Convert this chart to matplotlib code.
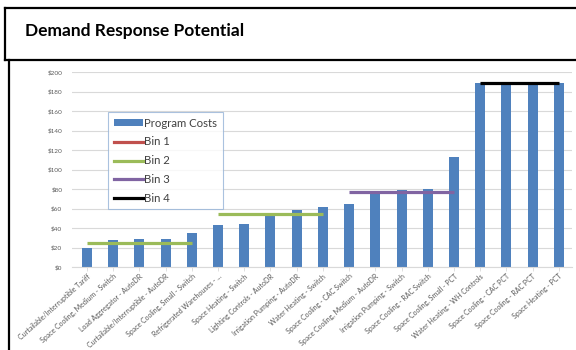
import matplotlib
matplotlib.use("Agg")
import matplotlib.pyplot as plt
from matplotlib.lines import Line2D
from matplotlib.patches import Patch
import numpy as np

plt.rcParams['font.family'] = ['Lato', 'DejaVu Sans']

programs = [
    "Curtailable/Interruptible Tariff",
    "Space Cooling, Medium - Switch",
    "Load Aggregator - AutoDR",
    "Curtailable/Interruptible - AutoDR",
    "Space Cooling, Small - Switch",
    "Refrigerated Warehouses - ...",
    "Space Heating - Switch",
    "Lighting Controls - AutoDR",
    "Irrigation Pumping - AutoDR",
    "Water Heating - Switch",
    "Space Cooling - CAC Switch",
    "Space Cooling, Medium - AutoDR",
    "Irrigation Pumping - Switch",
    "Space Cooling - RAC Switch",
    "Space Cooling, Small - PCT",
    "Water Heating - WH Controls",
    "Space Cooling - CAC PCT",
    "Space Cooling - RAC PCT",
    "Space Heating - PCT",
]
costs = [19, 27.5, 28.5, 29, 34.5, 43, 44.5, 53, 58.5, 61.5,
         65, 78, 79, 79.5, 112.5, 188.5, 188.5, 188.5, 188.5]

# bin averages: (first program, last program, level)
bin2_segments = [(0, 4, 25), (5, 9, 54)]
bin3_segments = [(10, 14, 77)]
bin4_segments = [(15, 18, 189)]

bar_color = '#4F81BD'
bin_colors = {'Bin 1': '#C0504D', 'Bin 2': '#9BBB59',
              'Bin 3': '#8064A2', 'Bin 4': '#000000'}

W, H = 576, 350
fig = plt.figure(figsize=(W / 100, H / 100), dpi=100)
ax = fig.add_axes([72 / W, 1 - 267 / H, 500 / W, 195 / H])

x = np.arange(len(programs))
ax.bar(x, costs, width=0.38, color=bar_color, zorder=2)

for segs, name in [(bin2_segments, 'Bin 2'), (bin3_segments, 'Bin 3'),
                   (bin4_segments, 'Bin 4')]:
    for a, b, level in segs:
        ax.plot([a, b], [level, level], color=bin_colors[name], lw=2.3,
                solid_capstyle='butt', zorder=3)

ax.set_xlim(-0.57, 18.5)
ax.set_ylim(0, 200)
ax.set_yticks(np.arange(0, 201, 20))
ax.set_yticklabels(['$%d' % v for v in range(0, 201, 20)])
ax.set_xticks(x)
ax.set_xticklabels(programs, rotation=42, ha='right', rotation_mode='anchor')
ax.tick_params(axis='y', length=0, labelsize=4.6, labelcolor='#595959', pad=7)
ax.tick_params(axis='x', length=3, width=0.6, color='#D9D9D9',
               labelsize=5, labelcolor='#595959', pad=1)
ax.grid(axis='y', color='#D9D9D9', lw=0.8, zorder=0)
for side in ['top', 'right', 'left']:
    ax.spines[side].set_visible(False)
ax.spines['bottom'].set_color('#D9D9D9')
ax.spines['bottom'].set_linewidth(0.8)

handles = [Patch(facecolor=bar_color, edgecolor='none')]
handles += [Line2D([], [], color=bin_colors[k], lw=2.3) for k in
            ['Bin 1', 'Bin 2', 'Bin 3', 'Bin 4']]
labels = ['Program Costs', 'Bin 1', 'Bin 2', 'Bin 3', 'Bin 4']
leg = fig.legend(handles, labels, loc='upper left',
                 bbox_to_anchor=(108 / W, 1 - 112 / H), fontsize=8.2,
                 frameon=True, fancybox=False, handlelength=2.6,
                 handleheight=0.5, handletextpad=0.05, labelspacing=0.68,
                 borderpad=0.5, borderaxespad=0)
leg.get_frame().set_edgecolor('#95B3D7')
leg.get_frame().set_linewidth(0.8)
for t in leg.get_texts():
    t.set_color('#404040')

# boxes around the title and the chart
def fline(xs, ys, lw=1.6):
    fig.add_artist(Line2D([v / W for v in xs], [1 - v / H for v in ys],
                          color='black', lw=lw, solid_capstyle='projecting'))

fline([5, W + 10], [8, 8])
fline([5, 5], [8, 60])
fline([5, W + 10], [60, 60])
fline([8.5, 8.5], [60, H + 10])

fig.text(25 / W, 1 - 36 / H, 'Demand Response Potential', fontsize=12.5,
         fontweight='bold', color='black', ha='left', va='baseline')

fig.savefig('out.png', dpi=100)
